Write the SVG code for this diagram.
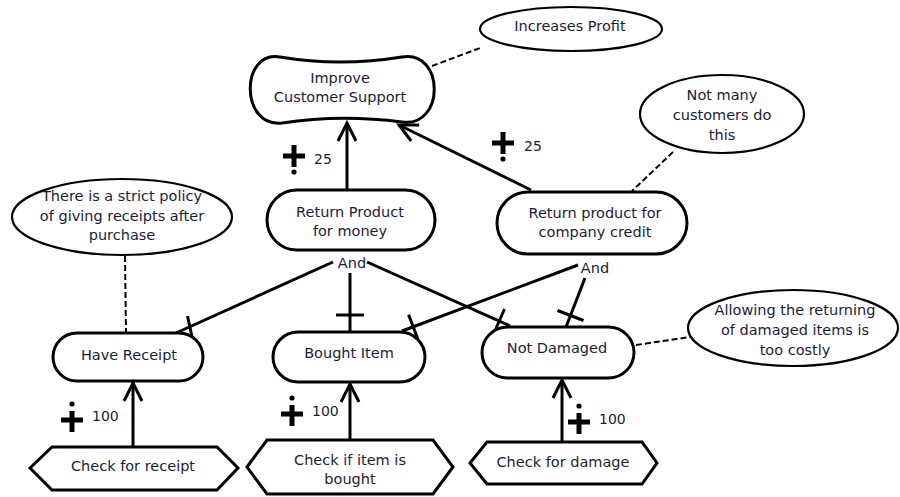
<svg xmlns="http://www.w3.org/2000/svg" width="900" height="497" viewBox="0 0 900 497">
<style>
.n{fill:#fff;stroke:#000;stroke-width:3}
.b{fill:#fff;stroke:#000;stroke-width:2.2}
.t{font-family:"DejaVu Sans",sans-serif;font-size:14.5px;fill:#1c1c3a;text-anchor:middle}
.num{font-family:"DejaVu Sans",sans-serif;font-size:14px;fill:#1c1c3a}
.c{fill:none;stroke:#000;stroke-width:3}
.d{fill:none;stroke:#000;stroke-width:2;stroke-dasharray:6,3}
</style>
<defs>
<marker id="arr" markerUnits="userSpaceOnUse" markerWidth="24" markerHeight="24" viewBox="-20 -12 24 24" refX="0" refY="0" orient="auto" overflow="visible">
<path d="M-18,-9 L0,0 L-18,9" fill="none" stroke="#000" stroke-width="3"/>
</marker>
<g id="plusBelow">
<path d="M-11,0 H11 M0,-11 V11" stroke="#000" stroke-width="5" fill="none"/>
<circle cx="0" cy="16" r="2.6" fill="#000"/>
</g>
<g id="plusAbove">
<path d="M-11,0 H11 M0,-9 V12" stroke="#000" stroke-width="5" fill="none"/>
<circle cx="0" cy="-16" r="2.6" fill="#000"/>
</g>
</defs>
<rect width="900" height="497" fill="#fff"/>

<g id="connectors">
<line class="d" x1="432" y1="66" x2="480" y2="48"/>
<line class="d" x1="673" y1="152" x2="632" y2="191"/>
<line class="d" x1="125" y1="256" x2="126" y2="333"/>
<line class="d" x1="636" y1="345" x2="690" y2="337"/>
<line class="c" x1="347" y1="190" x2="347" y2="123" marker-end="url(#arr)"/>
<line class="c" x1="531" y1="190" x2="399" y2="125" marker-end="url(#arr)"/>
<line class="c" x1="133" y1="447" x2="133" y2="383" marker-end="url(#arr)"/>
<line class="c" x1="350" y1="440" x2="350" y2="384" marker-end="url(#arr)"/>
<line class="c" x1="562" y1="442" x2="562" y2="380" marker-end="url(#arr)"/>
<line class="c" x1="333" y1="262" x2="176" y2="333"/>
<line class="c" x1="187.5" y1="316" x2="192.5" y2="339"/>
<line class="c" x1="350" y1="273" x2="350" y2="332"/>
<line class="c" x1="336" y1="315" x2="364" y2="315"/>
<line class="c" x1="367" y1="262" x2="510" y2="326"/>
<line class="c" x1="504.5" y1="309" x2="494" y2="333"/>
<line class="c" x1="578" y1="265" x2="402" y2="331"/>
<line class="c" x1="408.6" y1="314.6" x2="417.8" y2="339"/>
<line class="c" x1="585" y1="278" x2="566" y2="327"/>
<line class="c" x1="557.5" y1="310.5" x2="583.5" y2="320.5"/>
<text class="t" x="352" y="268">And</text>
<text class="t" x="595" y="273">And</text>
<use href="#plusBelow" x="294" y="156"/>
<text class="num" x="314" y="164">25</text>
<use href="#plusBelow" x="503" y="143"/>
<text class="num" x="524" y="151">25</text>
<use href="#plusAbove" x="72" y="420"/>
<text class="num" x="92" y="421">100</text>
<use href="#plusAbove" x="292" y="414"/>
<text class="num" x="312" y="416">100</text>
<use href="#plusAbove" x="579" y="422"/>
<text class="num" x="599" y="424">100</text>
</g>

<g id="improve">
<path class="n" d="M280,57 Q340,67 402,57 C445,50 445,128 402,122 Q340,114 282,123 C240,128 240,50 280,57 Z"/>
<text class="t" x="340" y="83">Improve</text>
<text class="t" x="340" y="102">Customer Support</text>
</g>

<g id="profit">
<ellipse class="b" cx="571" cy="29" rx="91" ry="22"/>
<text class="t" x="570" y="31">Increases Profit</text>
</g>

<g id="notmany">
<ellipse class="b" cx="722" cy="114" rx="82" ry="39"/>
<text class="t" x="722" y="100">Not many</text>
<text class="t" x="722" y="120">customers do</text>
<text class="t" x="722" y="140">this</text>
</g>

<g id="money">
<rect class="n" x="267" y="190" width="168" height="60" rx="30"/>
<text class="t" x="350" y="217">Return Product</text>
<text class="t" x="350" y="236">for money</text>
</g>

<g id="credit">
<rect class="n" x="497" y="192" width="190" height="62" rx="31"/>
<text class="t" x="595" y="218">Return product for</text>
<text class="t" x="595" y="237">company credit</text>
</g>

<g id="policy">
<ellipse class="b" cx="122" cy="217" rx="110" ry="38"/>
<text class="t" x="122" y="201">There is a strict policy</text>
<text class="t" x="122" y="221">of giving receipts after</text>
<text class="t" x="122" y="240">purchase</text>
</g>

<g id="receipt">
<rect class="n" x="53" y="333" width="150" height="48" rx="24"/>
<text class="t" x="129" y="360">Have Receipt</text>
</g>

<g id="bought">
<rect class="n" x="273" y="332" width="152" height="50" rx="25"/>
<text class="t" x="349" y="358">Bought Item</text>
</g>

<g id="notdamaged">
<rect class="n" x="482" y="327" width="152" height="51" rx="25.5"/>
<text class="t" x="557" y="353">Not Damaged</text>
</g>

<g id="costly">
<ellipse class="b" cx="793" cy="328" rx="105" ry="38"/>
<text class="t" x="795" y="315">Allowing the returning</text>
<text class="t" x="795" y="335">of damaged items is</text>
<text class="t" x="795" y="355">too costly</text>
</g>

<g id="checkreceipt">
<polygon class="n" points="30,468 52,447 217,447 238,468 217,490 52,490"/>
<text class="t" x="133" y="471">Check for receipt</text>
</g>

<g id="checkbought">
<polygon class="n" points="247,467 267,440 433,440 453,467 433,494 267,494"/>
<text class="t" x="350" y="465">Check if item is</text>
<text class="t" x="350" y="484">bought</text>
</g>

<g id="checkdamage">
<polygon class="n" points="470,463 487,442 642,442 657,463 642,484 487,484"/>
<text class="t" x="563" y="467">Check for damage</text>
</g>
</svg>
